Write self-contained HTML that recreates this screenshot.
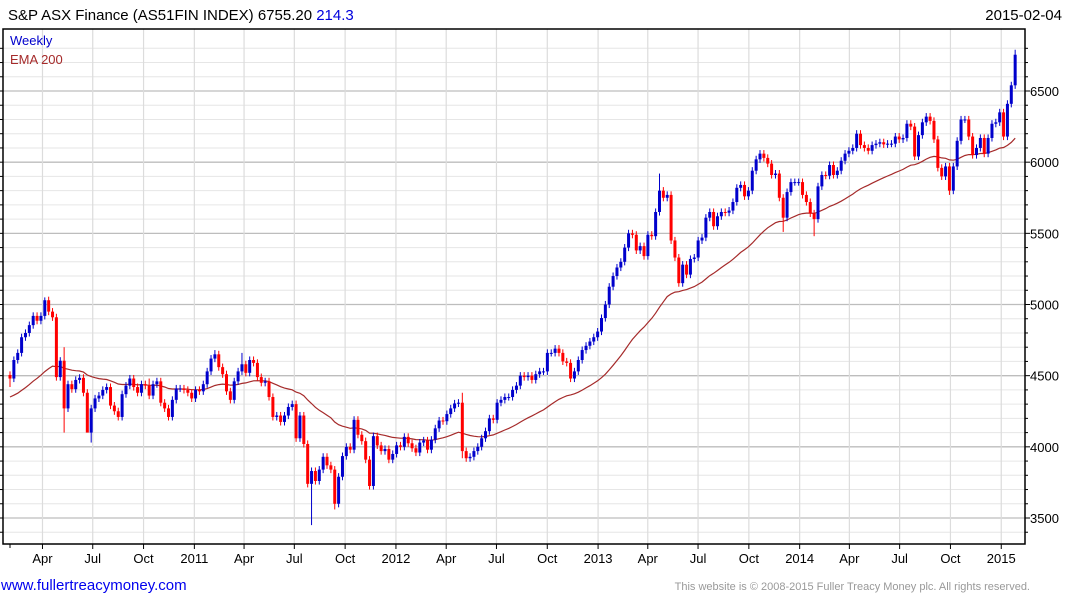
<!DOCTYPE html>
<html><head><meta charset="utf-8">
<style>
body{margin:0;background:#fff;width:1075px;height:600px;overflow:hidden;font-family:"Liberation Sans",Arial,sans-serif}
svg{display:block}
</style></head>
<body>
<svg id="chart" width="1075" height="600" xmlns="http://www.w3.org/2000/svg" font-family="Liberation Sans, Arial, sans-serif">
  <text x="8" y="20" font-size="15" fill="#000">S&amp;P ASX Finance (AS51FIN INDEX) 6755.20 <tspan fill="#0000dd">214.3</tspan></text>
  <text x="1062" y="20" font-size="15" fill="#000" text-anchor="end">2015-02-04</text>
  <g id="grid"></g>
  <g id="ema"></g>
  <g id="candles"></g>
  <g id="axes"></g>
  <text x="10" y="45" font-size="13" fill="#0000cc">Weekly</text>
  <text x="10" y="64" font-size="13" fill="#a52a2a">EMA 200</text>
  <text x="1" y="590" font-size="15" fill="#0000ee">www.fullertreacymoney.com</text>
  <text x="1030" y="590" font-size="11" fill="#999" text-anchor="end">This website is © 2008-2015 Fuller Treacy Money plc. All rights reserved.</text>
</svg>
<script>
const startDate = "2010-02-03";
const firstOpen = 4505;
const closes = [
4480,4610,4660,4770,4800,4855,4920,4886,4920,5030,4950,4910,4490,4605,4270,4440,4405,4470,4485,4380,
4100,4270,4340,4360,4400,4420,4290,4250,4210,4370,4430,4480,4420,4380,4440,4430,4360,4440,4460,4310,
4270,4210,4330,4410,4410,4400,4380,4340,4400,4390,4440,4530,4620,4650,4560,4510,4390,4330,4460,4530,
4580,4520,4610,4590,4490,
4450,4460,4350,4210,4220,4175,4220,4280,4300,4060,4220,4020,3740,3830,3760,3840,3930,3870,3840,3600,
3790,3935,4000,3980,4190,4085,4040,3910,3725,4075,4010,3970,3985,3910,3950,4010,4000,4070,4025,3990,
3960,4030,4045,3980,4050,4130,4185,4180,4230,4270,4305,4310,3970,3920,3930,3970,4000,4060,4110,4200,
4190,4310,4330,4350,
4350,4400,4430,4500,4490,4500,4470,4510,4530,4530,4660,4660,4690,4660,4600,4590,4480,4530,4610,4680,
4710,4740,4770,4810,4905,5000,5125,5200,5260,5300,5400,5500,5490,5380,5410,5340,5490,5480,5650,5800,
5750,5770,5450,5330,5150,5280,5210,5320,5330,5450,5470,5610,5650,5550,5620,5650,5645,5660,5720,5820,
5840,5760,5800,5940,
6020,6060,6030,5990,5910,5920,5750,5610,5790,5860,5860,5860,5770,5720,5640,5600,5830,5910,5905,5980,
5910,5940,6010,6060,6080,6100,6200,6120,6100,6080,6120,6130,6140,6125,6130,6130,6180,6160,6170,6270,
6250,6040,6190,6280,6320,6290,6160,5960,5900,5970,5800,5970,6150,6300,6300,6180,6050,6100,6170,6060,
6170,6270,6280,6350,6180,6410,6540,6755];
// notable extreme wicks (week index -> price)
const highOverrides = {9:5050,14:4700,36:4480,53:4680,60:4660,117:4380,168:5920,260:6790};
const lowOverrides = {0:4420,14:4100,21:4030,20:4250,78:3450,84:3560,93:3700,117:3920,200:5510,208:5480,243:5770};
const yTicks = [3500,4000,4500,5000,5500,6000,6500];
const xTickLabels = ["Apr","Jul","Oct","2011","Apr","Jul","Oct","2012","Apr","Jul","Oct","2013","Apr","Jul","Oct","2014","Apr","Jul","Oct","2015"];
const xTickDates = ["2010-04-01","2010-07-01","2010-10-01","2011-01-01","2011-04-01","2011-07-01","2011-10-01","2012-01-01","2012-04-01","2012-07-01","2012-10-01","2013-01-01","2013-04-01","2013-07-01","2013-10-01","2014-01-01","2014-04-01","2014-07-01","2014-10-01","2015-01-01"];
const emaSeed = 4350;
const emaPeriodWeeks = 40;

const NS="http://www.w3.org/2000/svg";
const L=3, R=1025, T=29, B=544;
const x0=10, wk=3.866;
function xScale(i){return x0+i*wk;}
function dateToIndex(d){return (new Date(d)-new Date(startDate))/(7*864e5);}
function yScale(v){return 518-(v-3500)*0.14233;}
function mk(tag,attrs,parent){const e=document.createElementNS(NS,tag);for(const k in attrs)e.setAttribute(k,attrs[k]);parent.appendChild(e);return e;}
const grid=document.getElementById('grid'), axes=document.getElementById('axes'), cg=document.getElementById('candles'), eg=document.getElementById('ema');

for(let v=3400;v<=6800;v+=100){
  const y=yScale(v); if(y<T||y>B) continue;
  const major=v%500===0;
  const ln=mk('line',{x1:L,x2:R,y1:y,y2:y,stroke:major?'#bdbdbd':'#e6e6e6','stroke-width':major?1.3:1},grid);
  
  
  const t1=mk('line',{x1:R,x2:R+(major?5:3),y1:y,y2:y,stroke:'#000'},axes);
  
  
  const t2=mk('line',{x1:0,x2:L,y1:y,y2:y,stroke:'#000'},axes);
  
  
}
yTicks.forEach(v=>{
  const t=mk('text',{x:R+5,y:yScale(v)+5,'font-size':13,fill:'#000'},axes);
  t.textContent=v;
  
  
});
xTickDates.forEach((d,k)=>{
  const x=xScale(dateToIndex(d))+1;
  const g=mk('line',{x1:x,x2:x,y1:T,y2:B,stroke:'#dcdcdc','stroke-width':1.2},grid);
  
  
  const t=mk('line',{x1:x,x2:x,y1:B,y2:B+5,stroke:'#000'},axes);
  
  
  const lb=mk('text',{x:x,y:563,'font-size':13,fill:'#000','text-anchor':'middle'},axes);
  lb.textContent=xTickLabels[k];
  
  
});
const t0=mk('line',{x1:x0,x2:x0,y1:B,y2:B+4,stroke:'#000'},axes);


const fr=mk('path',{d:`M${L},${B} L${L},${T} L${R},${T} L${R},${B} Z`,fill:'none',stroke:'#000','stroke-width':1.5},axes);



let prev=firstOpen;
closes.forEach((c,i)=>{
  const o=prev; prev=c;
  const up=c>=o, col=up?'#0000cc':'#ff0000';
  const hi=highOverrides[i]!==undefined?highOverrides[i]:Math.max(o,c)+25;
  const lo=lowOverrides[i]!==undefined?lowOverrides[i]:Math.min(o,c)-25;
  const x=xScale(i);
  const w=mk('line',{x1:x,x2:x,y1:yScale(hi),y2:yScale(lo),stroke:col,'stroke-width':1},cg);
  
  
  const yt=yScale(Math.max(o,c)), yb=yScale(Math.min(o,c));
  const b=mk('rect',{x:x-1.5,y:yt,width:3,height:Math.max(1,yb-yt),fill:col},cg);
  
  
});
const a=2/(emaPeriodWeeks+1);
let e=emaSeed, pts=[];
closes.forEach((c,i)=>{ if(i>0) e=e+a*(c-e); pts.push(xScale(i).toFixed(1)+','+yScale(e).toFixed(1)); });
const pl=mk('polyline',{points:pts.join(' '),fill:'none',stroke:'#a52a2a','stroke-width':1.2},eg);


</script>
</body></html>
